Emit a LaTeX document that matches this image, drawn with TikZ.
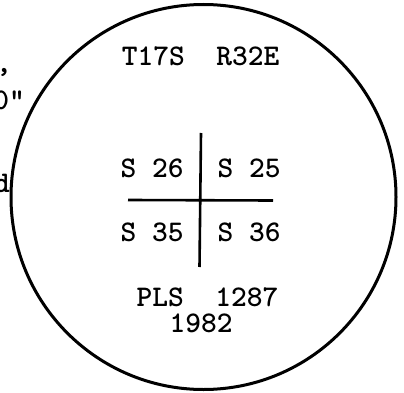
\documentclass[tikz,border=0pt]{standalone}
\tikzset{
  typed/.style={font=\fontsize{30}{36}\selectfont\ttfamily\bfseries, inner sep=0pt},
  rim/.style={line width=3pt},
  bar/.style={line width=2.6pt}
}
\begin{document}
\begin{tikzpicture}[x=1pt,y=-1pt]
  \useasboundingbox (0,0) rectangle (404,393);
  \clip (0,0) rectangle (404,393);
  % section circle
  \draw[rim] (203.5,197) circle (192.5);
  \node[typed] (twp) at (200.5,56) {T17S\ \ R32E};
  \node[typed] (s26) at (152,168) {S 26};
  \node[typed] (s25) at (249,168) {S 25};
  \node[typed] (s35) at (152,232) {S 35};
  \node[typed] (s36) at (249,232) {S 36};
  \node[typed] (pls) at (207.5,297) {PLS\ \ 1287};
  \node[typed] (yr) at (201,323) {1982};
  % section corner cross
  \coordinate (vt) at (201,133);
  \coordinate (vb) at (199.5,267);
  \coordinate (hl) at (128,200);
  \coordinate (hr) at (273,200.5);
  \draw[bar] (vt)--(vb) (hl)--(hr);
  % text cut off at the left
  \node[typed,anchor=east] (cma) at (12,72) {,};
  \node[typed,anchor=east] (inch) at (25,100) {0"};
  \node[typed,anchor=east] (frd) at (10,183) {d};
\end{tikzpicture}
\end{document}
